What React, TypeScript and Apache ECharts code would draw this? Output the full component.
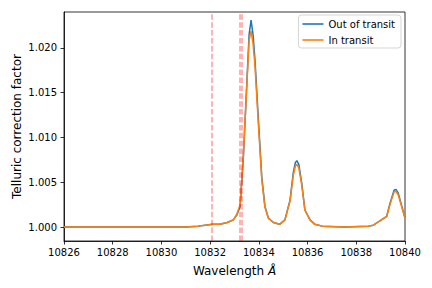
import React, { useEffect, useRef } from "react";
import * as echarts from "echarts";

const wavelengths = [
  10826.0, 10828.0, 10830.0, 10831.0, 10831.5, 10831.8, 10832.1, 10832.4, 10832.7, 10832.95,
  10833.09, 10833.23, 10833.36, 10833.5, 10833.6, 10833.68, 10833.76, 10833.84, 10833.98, 10834.12,
  10834.25, 10834.39, 10834.6, 10834.85, 10835.07, 10835.28, 10835.41, 10835.5, 10835.56, 10835.64,
  10835.76, 10835.89, 10836.1, 10836.3, 10836.6, 10837.5, 10838.5, 10838.7, 10838.97, 10839.25,
  10839.38, 10839.55, 10839.63, 10839.72, 10839.85, 10840.0,
];
const outOfTransit = [
  1.0, 1.0, 1.0, 1.0, 1.0001, 1.0002, 1.0003, 1.0003, 1.0005, 1.0008,
  1.0013, 1.0023, 1.0075, 1.0157, 1.0215, 1.0231, 1.0215, 1.0187, 1.012, 1.0056,
  1.0023, 1.001, 1.0005, 1.0003, 1.0008, 1.003, 1.006, 1.0072, 1.0074, 1.007,
  1.0049, 1.0019, 1.0008, 1.0003, 1.0001, 1.0, 1.0001, 1.0002, 1.0007, 1.0012,
  1.0026, 1.0041, 1.0042, 1.0038, 1.0025, 1.001,
];
const inTransit = [
  1.0, 1.0, 1.0, 1.0, 1.0001, 1.0002, 1.0003, 1.0003, 1.0005, 1.0008,
  1.0014, 1.0025, 1.0078, 1.0155, 1.0208, 1.0219, 1.0205, 1.018, 1.0115, 1.0053,
  1.0022, 1.001, 1.0005, 1.0003, 1.0008, 1.0029, 1.0057, 1.0068, 1.007, 1.0066,
  1.0047, 1.0019, 1.0008, 1.0003, 1.0001, 1.0, 1.0001, 1.0002, 1.0007, 1.0012,
  1.0025, 1.0039, 1.004, 1.0036, 1.0024, 1.001,
];
const heliumLines = [10832.057, 10833.217, 10833.306];
const yTicks = [1.0, 1.005, 1.01, 1.015, 1.02];
const seriesNames = ["Out of transit", "In transit"];

const FONT = "DejaVu Sans";

export default function App() {
  const ref = useRef<HTMLDivElement>(null);
  useEffect(() => {
    const chart = echarts.init(ref.current!, null, { renderer: "svg" });
    const toPairs = (ys: number[]) => wavelengths.map((w, i) => [w, ys[i]]);
    chart.setOption({
      animation: false,
      textStyle: { fontFamily: FONT },
      grid: {
        left: 64,
        right: 27,
        top: 12,
        bottom: 47,
        show: true,
        borderColor: "#000",
        borderWidth: 0.8,
        backgroundColor: "transparent",
        outerBoundsMode: "none",
        containLabel: false,
      },
      legend: {
        right: 31,
        top: 15,
        orient: "vertical",
        data: seriesNames.map((n) => ({ name: n, icon: "rect" })),
        itemWidth: 21,
        itemHeight: 1.6,
        itemGap: 6,
        padding: [4, 6, 3, 4],
        borderColor: "#d5d5d5",
        borderWidth: 1,
        borderRadius: 3,
        backgroundColor: "rgba(255,255,255,0.8)",
        textStyle: { fontSize: 10, color: "#000", fontFamily: FONT },
      },
      xAxis: {
        type: "value",
        min: 10826,
        max: 10840,
        interval: 2,
        name: "Wavelength {i|Å}",
        nameLocation: "middle",
        nameGap: 24,
        nameMoveOverlap: false,
        nameTextStyle: {
          fontSize: 12,
          color: "#000",
          fontFamily: FONT,
          rich: { i: { fontSize: 12, fontStyle: "italic", fontFamily: FONT, color: "#000" } },
        },
        axisLine: { show: true, onZero: false, lineStyle: { color: "#000", width: 0.8 } },
        axisTick: { show: true, length: 3.5, lineStyle: { color: "#000", width: 0.8 } },
        axisLabel: {
          fontSize: 10,
          color: "#000",
          margin: 6,
          fontFamily: FONT,
          formatter: (v: number) => String(Math.round(v)),
        },
        splitLine: { show: false },
      },
      yAxis: {
        type: "value",
        min: 0.99844,
        max: 1.024,
        name: "Telluric correction factor",
        nameLocation: "middle",
        nameGap: 41,
        nameMoveOverlap: false,
        nameTextStyle: { fontSize: 12, color: "#000", fontFamily: FONT },
        axisLine: { show: true, onZero: false, lineStyle: { color: "#000", width: 0.8 } },
        axisTick: { show: true, length: 3.5, customValues: yTicks, lineStyle: { color: "#000", width: 0.8 } },
        axisLabel: {
          fontSize: 10,
          color: "#000",
          margin: 7,
          fontFamily: FONT,
          customValues: yTicks,
          formatter: (v: number) => v.toFixed(3),
        },
        splitLine: { show: false },
      },
      series: [
        {
          name: seriesNames[0],
          type: "line",
          data: toPairs(outOfTransit),
          symbol: "none",
          lineStyle: { color: "#1f77b4", width: 1.5 },
          itemStyle: { color: "#1f77b4" },
          z: 2,
        },
        {
          name: seriesNames[1],
          type: "line",
          data: toPairs(inTransit),
          symbol: "none",
          lineStyle: { color: "#ff7f0e", width: 1.5 },
          itemStyle: { color: "#ff7f0e" },
          z: 3,
        },
        {
          name: "lines",
          type: "line",
          data: [],
          z: 4,
          markLine: {
            silent: true,
            symbol: "none",
            label: { show: false },
            animation: false,
            lineStyle: { color: "rgba(255,0,0,0.4)", width: 1.5, type: [5.5, 2.4] },
            data: heliumLines.map((x) => ({ xAxis: x })),
          },
        },
      ],
    });
    return () => chart.dispose();
  }, []);
  return <div ref={ref} style={{ width: 432, height: 288, position: "absolute", left: 0, top: 0 }} />;
}
